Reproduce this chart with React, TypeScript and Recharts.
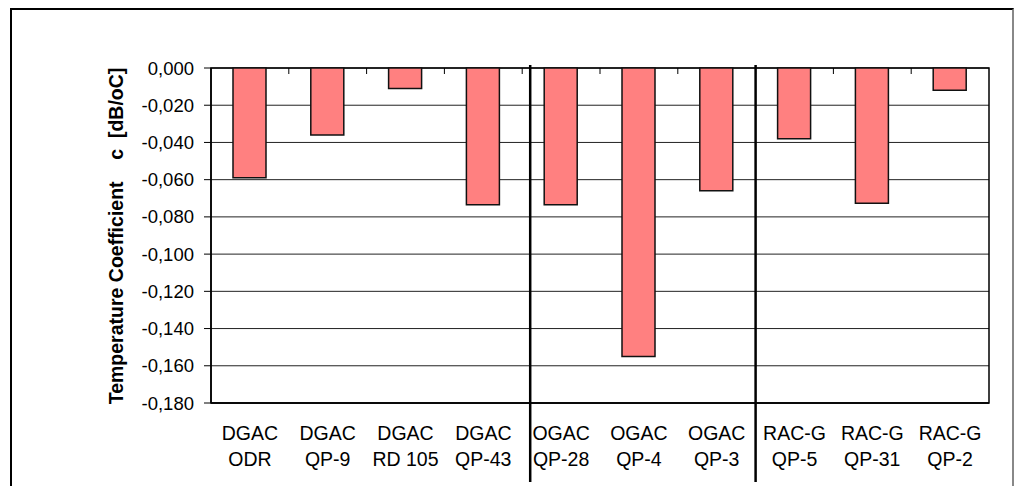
import React from 'react';
import { BarChart, Bar, XAxis, YAxis, CartesianGrid, ReferenceArea } from 'recharts';

// asphalt mix groups and mixes, two label lines per bar
const groups = ['DGAC', 'DGAC', 'DGAC', 'DGAC', 'OGAC', 'OGAC', 'OGAC', 'RAC-G', 'RAC-G', 'RAC-G'];
const mixes = ['ODR', 'QP-9', 'RD 105', 'QP-43', 'QP-28', 'QP-4', 'QP-3', 'QP-5', 'QP-31', 'QP-2'];
// temperature coefficient c [dB/oC]
const coefficients = [-0.059, -0.036, -0.011, -0.0735, -0.0735, -0.155, -0.066, -0.038, -0.0727, -0.012];
const yTicks = [0, -0.02, -0.04, -0.06, -0.08, -0.1, -0.12, -0.14, -0.16, -0.18];

const data = mixes.map((mix, i) => ({ group: groups[i], mix, value: coefficients[i] }));

const W = 1014;
const H = 486;
const MARGIN = { top: 68, right: 25, bottom: 0, left: 0 };
const Y_AXIS_WIDTH = 211;
const X_AXIS_HEIGHT = 83;
const FONT = 'Arial, "Liberation Sans", sans-serif';

// hand drawn separators sit a bit off the boundary in the original
const SEPARATOR_NUDGE: Record<number, number> = { 3: 8 };

const formatTick = (v: number) => {
  const s = Math.abs(v).toFixed(3).replace('.', ',');
  return v < -1e-9 ? `-${s}` : s;
};

const CategoryTick = (props: any) => {
  const { x, y, payload, index } = props;
  const plotWidth = W - MARGIN.left - Y_AXIS_WIDTH - MARGIN.right;
  const half = plotWidth / data.length / 2;
  const boundary = x + half;
  const row = data[index] ?? data.find((d) => d.mix === payload.value);
  const next = data[index + 1];
  const isSeparator = next && row && next.group !== row.group;
  return (
    <g>
      <text x={x} y={y + 37} textAnchor="middle" fontSize={19.5} fontFamily={FONT} fill="#000">
        {row?.group}
      </text>
      <text x={x} y={y + 63} textAnchor="middle" fontSize={19.5} fontFamily={FONT} fill="#000">
        {payload.value}
      </text>
      {next && (
        <line x1={boundary} x2={boundary} y1={MARGIN.top} y2={MARGIN.top + 6} stroke="#000" strokeWidth={1} />
      )}
      {isSeparator && (
        <line
          x1={boundary + (SEPARATOR_NUDGE[index] ?? 0)}
          x2={boundary + (SEPARATOR_NUDGE[index] ?? 0)}
          y1={MARGIN.top - 3}
          y2={482}
          stroke="#000"
          strokeWidth={2.5}
        />
      )}
    </g>
  );
};

const YLabel = () => {
  const cx = 123;
  const cy = 236;
  return (
    <text
      x={cx}
      y={cy}
      transform={`rotate(-90, ${cx}, ${cy})`}
      textAnchor="middle"
      fontSize={19.5}
      fontWeight="bold"
      fontFamily={FONT}
      fill="#000"
      xmlSpace="preserve"
      style={{ whiteSpace: 'pre' }}
    >
      {'Temperature Coefficient    c  [dB/oC]'}
    </text>
  );
};

export default function App() {
  return (
    <div style={{ position: 'absolute', left: 0, top: 0, width: W, height: H, background: '#fff' }}>
      <div
        style={{
          position: 'absolute',
          left: 10,
          top: 8,
          width: 1000,
          height: 490,
          borderTop: '2px solid #000',
          borderLeft: '2px solid #000',
          borderRight: '2px solid #888',
        }}
      />
      <div style={{ position: 'absolute', left: 0, top: 0 }}>
        <BarChart width={W} height={H} data={data} margin={MARGIN}>
          <CartesianGrid vertical={false} stroke="#222" horizontalValues={yTicks} />
          <ReferenceArea y1={-0.18} y2={0} fill="none" stroke="#000" strokeWidth={1.5} strokeOpacity={1} />
          <XAxis
            dataKey="mix"
            interval={0}
            height={X_AXIS_HEIGHT}
            tickLine={false}
            tickSize={0}
            tickMargin={0}
            axisLine={{ stroke: '#000', strokeWidth: 1.5 }}
            tick={<CategoryTick />}
          />
          <YAxis
            width={Y_AXIS_WIDTH}
            domain={[-0.18, 0]}
            ticks={yTicks}
            interval={0}
            tickFormatter={formatTick}
            tickSize={7}
            tickMargin={10}
            axisLine={{ stroke: '#000', strokeWidth: 1.5 }}
            tickLine={{ stroke: '#000' }}
            tick={{ fontSize: 18.5, fontFamily: FONT, fill: '#000' }}
            label={() => <YLabel />}
          />
          <Bar
            dataKey="value"
            fill="#FF8080"
            stroke="#111"
            strokeWidth={1.5}
            barSize={33}
            isAnimationActive={false}
          />
        </BarChart>
      </div>
    </div>
  );
}
